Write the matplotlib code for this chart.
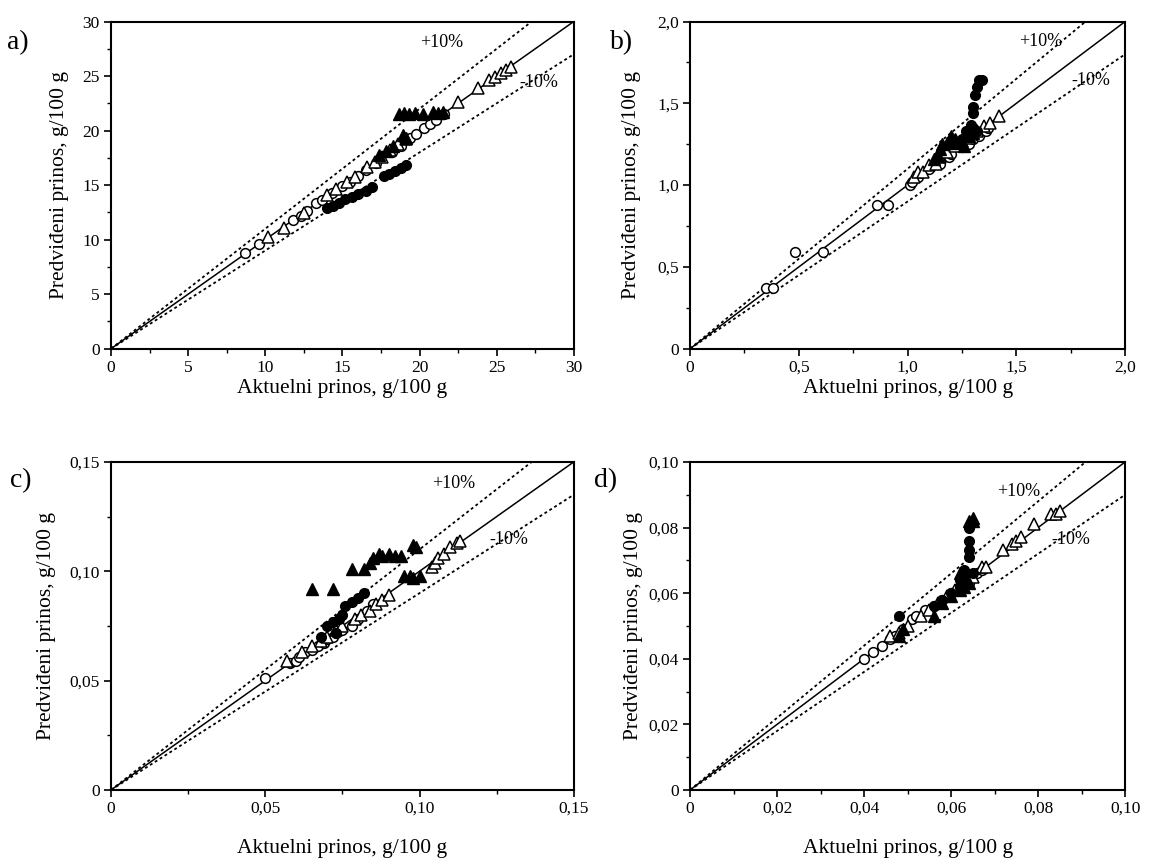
import matplotlib
matplotlib.use('Agg')
import matplotlib.pyplot as plt
from matplotlib.ticker import MultipleLocator, FuncFormatter

plt.rcParams['font.family'] = ['Liberation Serif', 'DejaVu Serif']

# ---- panel a) ----
a_oc_x = [8.7, 9.6, 11.8, 12.3, 12.7, 13.3, 13.7, 14.3, 15.0, 15.5, 16.0, 16.5, 17.2, 18.2, 18.8, 19.4, 19.8, 20.3, 20.7, 21.1, 21.6]
a_oc_y = [8.8, 9.6, 11.8, 12.2, 12.6, 13.4, 13.6, 14.3, 14.9, 15.3, 15.8, 16.4, 17.0, 18.0, 18.6, 19.3, 19.7, 20.2, 20.6, 21.0, 21.5]
a_ot_x = [10.2, 11.2, 12.5, 14.0, 14.6, 15.3, 15.8, 16.6, 17.1, 17.6, 18.1, 18.6, 19.1, 22.5, 23.8, 24.5, 24.9, 25.3, 25.6, 25.9]
a_ot_y = [10.2, 11.1, 12.4, 14.1, 14.6, 15.3, 15.7, 16.7, 17.1, 17.6, 18.2, 18.8, 19.2, 22.6, 23.9, 24.6, 24.9, 25.3, 25.6, 25.8]
a_fc_x = [14.0, 14.4, 14.8, 15.2, 15.6, 16.0, 16.5, 16.9, 17.7, 18.0, 18.4, 18.8, 19.1]
a_fc_y = [12.9, 13.1, 13.4, 13.7, 13.9, 14.2, 14.5, 14.8, 15.8, 16.0, 16.3, 16.6, 16.8]
a_ft_x = [18.7, 19.0, 19.3, 19.7, 20.2, 20.9, 21.2, 21.5, 18.9, 19.1, 17.4, 17.8, 18.3]
a_ft_y = [21.5, 21.6, 21.5, 21.6, 21.5, 21.7, 21.6, 21.7, 19.6, 19.3, 17.8, 18.1, 18.6]

# ---- panel b) ----
b_oc_x = [0.35, 0.38, 0.48, 0.61, 0.86, 0.91, 1.01, 1.02, 1.05, 1.10, 1.15, 1.19, 1.20, 1.25, 1.28, 1.30, 1.33, 1.36, 1.37]
b_oc_y = [0.37, 0.37, 0.59, 0.59, 0.88, 0.88, 1.00, 1.02, 1.05, 1.10, 1.13, 1.17, 1.19, 1.23, 1.25, 1.28, 1.30, 1.33, 1.35]
b_ot_x = [1.03, 1.05, 1.07, 1.10, 1.13, 1.15, 1.18, 1.22, 1.25, 1.28, 1.32, 1.35, 1.38, 1.42]
b_ot_y = [1.05, 1.08, 1.08, 1.12, 1.13, 1.17, 1.20, 1.24, 1.27, 1.29, 1.33, 1.36, 1.38, 1.42]
b_fc_x = [1.33, 1.34, 1.32, 1.31, 1.30, 1.30, 1.29, 1.30, 1.27, 1.28, 1.25, 1.22, 1.32, 1.29]
b_fc_y = [1.64, 1.64, 1.60, 1.55, 1.48, 1.44, 1.37, 1.35, 1.33, 1.30, 1.28, 1.25, 1.33, 1.31]
b_ft_x = [1.15, 1.16, 1.18, 1.20, 1.22, 1.24, 1.26, 1.14, 1.12, 1.28, 1.30]
b_ft_y = [1.22, 1.25, 1.26, 1.30, 1.28, 1.26, 1.24, 1.18, 1.16, 1.30, 1.32]

# ---- panel c) ----
c_oc_x = [0.050, 0.058, 0.060, 0.061, 0.063, 0.065, 0.067, 0.069, 0.070, 0.072, 0.073, 0.075, 0.078, 0.080, 0.083, 0.085]
c_oc_y = [0.051, 0.058, 0.059, 0.061, 0.063, 0.064, 0.066, 0.067, 0.069, 0.070, 0.072, 0.073, 0.075, 0.078, 0.082, 0.085]
c_ot_x = [0.057, 0.062, 0.065, 0.068, 0.070, 0.073, 0.075, 0.079, 0.081, 0.084, 0.086, 0.088, 0.090, 0.104, 0.105, 0.106, 0.108, 0.110, 0.112, 0.113]
c_ot_y = [0.059, 0.063, 0.066, 0.068, 0.070, 0.073, 0.075, 0.078, 0.080, 0.082, 0.085, 0.087, 0.089, 0.102, 0.104, 0.106, 0.108, 0.111, 0.113, 0.114]
c_fc_x = [0.068, 0.070, 0.072, 0.074, 0.075, 0.076, 0.078, 0.080, 0.082, 0.073]
c_fc_y = [0.070, 0.075, 0.077, 0.078, 0.080, 0.084, 0.086, 0.088, 0.090, 0.072]
c_ft_x = [0.065, 0.072, 0.078, 0.082, 0.084, 0.085, 0.087, 0.088, 0.090, 0.092, 0.094, 0.098, 0.099, 0.095, 0.097, 0.098, 0.100]
c_ft_y = [0.092, 0.092, 0.101, 0.101, 0.104, 0.106, 0.108, 0.107, 0.108, 0.107, 0.107, 0.112, 0.111, 0.098, 0.098, 0.097, 0.098]

# ---- panel d) ----
d_oc_x = [0.040, 0.042, 0.044, 0.046, 0.047, 0.049, 0.051, 0.052, 0.054, 0.056, 0.058, 0.060, 0.062, 0.064, 0.066, 0.067]
d_oc_y = [0.040, 0.042, 0.044, 0.046, 0.047, 0.049, 0.052, 0.053, 0.055, 0.056, 0.058, 0.060, 0.062, 0.063, 0.066, 0.067]
d_ot_x = [0.046, 0.048, 0.050, 0.053, 0.055, 0.057, 0.059, 0.061, 0.063, 0.065, 0.067, 0.068, 0.072, 0.074, 0.075, 0.076, 0.079, 0.083, 0.084, 0.085]
d_ot_y = [0.047, 0.048, 0.050, 0.053, 0.055, 0.057, 0.059, 0.061, 0.064, 0.065, 0.068, 0.068, 0.073, 0.075, 0.076, 0.077, 0.081, 0.084, 0.084, 0.085]
d_fc_x = [0.048, 0.056, 0.058, 0.060, 0.062, 0.063, 0.063, 0.064, 0.064, 0.064, 0.064, 0.065, 0.062]
d_fc_y = [0.053, 0.056, 0.058, 0.060, 0.062, 0.065, 0.067, 0.071, 0.073, 0.076, 0.080, 0.066, 0.064]
d_ft_x = [0.048, 0.049, 0.056, 0.058, 0.060, 0.062, 0.063, 0.064, 0.064, 0.065, 0.065, 0.062]
d_ft_y = [0.047, 0.049, 0.053, 0.057, 0.059, 0.061, 0.062, 0.063, 0.082, 0.083, 0.082, 0.066]

panels = [
    # letter, axes rect, max, major, minor, decimals, series, +10% pos, -10% pos, letter pos, label pads
    ('a)', [0.0962, 0.595, 0.401, 0.380], 30, 5, 2.5, 0,
     (a_oc_x, a_oc_y, a_ot_x, a_ot_y, a_fc_x, a_fc_y, a_ft_x, a_ft_y),
     (0.715, 0.935), (0.925, 0.815), (0.006, 0.951), 2, 10),
    ('b)', [0.598, 0.595, 0.377, 0.380], 2.0, 0.5, 0.25, 1,
     (b_oc_x, b_oc_y, b_ot_x, b_ot_y, b_fc_x, b_fc_y, b_ft_x, b_ft_y),
     (0.805, 0.94), (0.92, 0.82), (0.529, 0.951), 2, 12),
    ('c)', [0.0962, 0.0825, 0.401, 0.381], 0.15, 0.05, 0.025, 2,
     (c_oc_x, c_oc_y, c_ot_x, c_ot_y, c_fc_x, c_fc_y, c_ft_x, c_ft_y),
     (0.74, 0.935), (0.86, 0.765), (0.009, 0.442), 16, 10),
    ('d)', [0.598, 0.0825, 0.377, 0.381], 0.10, 0.02, 0.01, 2,
     (d_oc_x, d_oc_y, d_ot_x, d_ot_y, d_fc_x, d_fc_y, d_ft_x, d_ft_y),
     (0.755, 0.91), (0.875, 0.765), (0.515, 0.442), 16, 4),
]

fig = plt.figure(figsize=(11.54, 8.61), dpi=100)

for letter, rect, vmax, major, minor, dec, s, plus_pos, minus_pos, let_pos, xpad, ypad in panels:
    ax = fig.add_axes(rect)
    # 1:1 line and the +/-10 % band
    ax.plot([0, vmax], [0, vmax], color='black', lw=1.1, zorder=1)
    ax.plot([0, vmax / 1.1], [0, vmax], color='black', lw=1.3, ls=(0, (1.6, 1.6)), zorder=1)
    ax.plot([0, vmax], [0, 0.9 * vmax], color='black', lw=1.3, ls=(0, (1.6, 1.6)), zorder=1)

    oc_x, oc_y, ot_x, ot_y, fc_x, fc_y, ft_x, ft_y = s
    ms = 7
    ax.plot(oc_x, oc_y, 'o', ms=ms, mfc='white', mec='black', mew=1.1, ls='none', zorder=3)
    ax.plot(ot_x, ot_y, '^', ms=ms + 1, mfc='white', mec='black', mew=1.1, ls='none', zorder=3)
    ax.plot(fc_x, fc_y, 'o', ms=ms, mfc='black', mec='black', ls='none', zorder=4)
    ax.plot(ft_x, ft_y, '^', ms=ms + 1, mfc='black', mec='black', ls='none', zorder=4)

    ax.text(*plus_pos, '+10%', transform=ax.transAxes, fontsize=13, ha='center', va='center')
    ax.text(*minus_pos, '-10%', transform=ax.transAxes, fontsize=13, ha='center', va='center')

    ax.set_xlim(0, vmax)
    ax.set_ylim(0, vmax)
    fmt = FuncFormatter(lambda v, p, d=dec: '0' if abs(v) < 1e-12 else f'{v:.{d}f}'.replace('.', ','))
    for axis in (ax.xaxis, ax.yaxis):
        axis.set_major_locator(MultipleLocator(major))
        axis.set_minor_locator(MultipleLocator(minor))
        axis.set_major_formatter(fmt)
    ax.tick_params(which='major', direction='out', length=5, width=1.2, labelsize=12.5, pad=3)
    ax.tick_params(which='minor', direction='out', length=3, width=1.0)
    for sp in ax.spines.values():
        sp.set_linewidth(1.5)

    ax.set_xlabel('Aktuelni prinos, g/100 g', fontsize=15.5, labelpad=xpad)
    ax.set_ylabel('Predviđeni prinos, g/100 g', fontsize=15.5, labelpad=ypad)
    fig.text(*let_pos, letter, fontsize=20, ha='left', va='center')

fig.savefig('out.png', dpi=100)
